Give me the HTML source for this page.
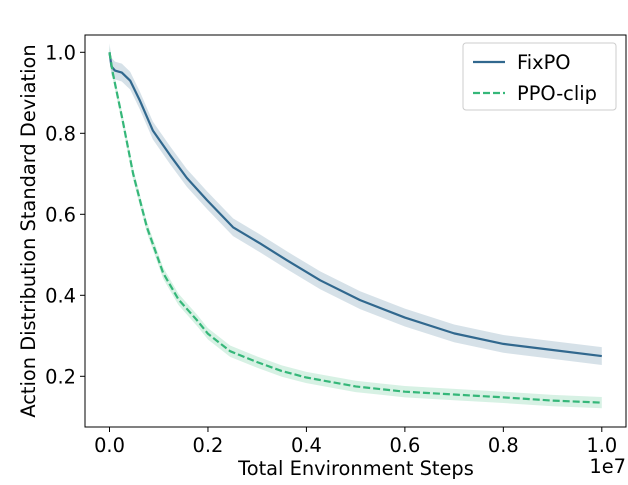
<!DOCTYPE html>
<html><head><meta charset="utf-8"><style>
body{margin:0;background:#fff}
svg text{font-family:"DejaVu Sans","Liberation Sans",sans-serif;fill:#000}
</style></head><body>
<svg width="628" height="480" xmlns="http://www.w3.org/2000/svg">
<g id="plot"></g>
</svg>
<script>
const xTicks=[0,0.2,0.4,0.6,0.8,1.0];
const xTickLabels=["0.0","0.2","0.4","0.6","0.8","1.0"];
const yTicks=[0.2,0.4,0.6,0.8,1.0];
const yTickLabels=["0.2","0.4","0.6","0.8","1.0"];
const fixX=[0,0.004,0.011,0.025,0.042,0.062,0.088,0.123,0.157,0.198,0.251,0.306,0.361,0.428,0.509,0.6,0.7,0.8,0.9,1.0];
const fixY=[1.0,0.965,0.955,0.95,0.93,0.88,0.807,0.746,0.69,0.635,0.568,0.528,0.486,0.437,0.388,0.345,0.306,0.28,0.265,0.25];
const ppoX=[0,0.007,0.027,0.048,0.076,0.109,0.14,0.178,0.2,0.245,0.3,0.35,0.4,0.5,0.6,0.7,0.8,0.9,1.0];
const ppoY=[1.0,0.947,0.83,0.70,0.568,0.455,0.39,0.338,0.305,0.262,0.235,0.213,0.197,0.175,0.162,0.155,0.148,0.14,0.135];
const fixBand=0.022, ppoBand=0.014;
const L=85,R=626,T=35,B=427;
const sx=v=>109.5+v*492.3;
const sy=v=>457.3-v*405;
const NS="http://www.w3.org/2000/svg";
const g=document.getElementById('plot');
function mk(tag,attrs,parent){const e=document.createElementNS(NS,tag);for(const k in attrs)e.setAttribute(k,attrs[k]);(parent||g).appendChild(e);return e;}
function band(xs,ys,w,color,name){
  let d="M"+xs.map((x,i)=>sx(x)+","+sy(ys[i]+w)).join("L");
  for(let i=xs.length-1;i>=0;i--)d+="L"+sx(xs[i])+","+sy(ys[i]-w);
  const p=mk('path',{d:d+"Z",fill:color,'fill-opacity':0.2});
  
  
}
function line(xs,ys,color,dash,name){
  const p=mk('path',{d:"M"+xs.map((x,i)=>sx(x)+","+sy(ys[i])).join("L"),fill:'none',stroke:color,'stroke-width':2.2,'stroke-dasharray':dash||'none','stroke-linejoin':'round'});
  
  
}
band(fixX,fixY,fixBand,'#31688e','fixpo-band');
band(ppoX,ppoY,ppoBand,'#35b779','ppo-band');
line(fixX,fixY,'#31688e',null,'fixpo-line');
line(ppoX,ppoY,'#35b779','7,3','ppo-clip-line');
const frame=mk('rect',{x:L,y:T,width:R-L,height:B-T,fill:'none',stroke:'#000','stroke-width':1});


xTicks.forEach((v,i)=>{
  mk('line',{x1:sx(v),x2:sx(v),y1:B,y2:B+5,stroke:'#000'});
  const t=mk('text',{x:sx(v),y:B+25,'text-anchor':'middle','font-size':19.4});
  t.textContent=xTickLabels[i];
  
  
});
yTicks.forEach((v,i)=>{
  mk('line',{x1:L-5,x2:L,y1:sy(v),y2:sy(v),stroke:'#000'});
  const t=mk('text',{x:L-9,y:sy(v)+7,'text-anchor':'end','font-size':19.4});
  t.textContent=yTickLabels[i];
  
  
});
</script>
<svg style="position:absolute;left:0;top:0" width="628" height="480">
<text x="356" y="475" text-anchor="middle" font-size="19.4">Total Environment Steps</text>
<text x="626" y="473" text-anchor="end" font-size="19.4">1e7</text>
<text transform="translate(35,231) rotate(-90)" text-anchor="middle" font-size="19.4">Action Distribution Standard Deviation</text>
<g>
<rect x="463" y="43" width="153" height="67" rx="3" fill="#fff" fill-opacity="0.8" stroke="#ccc"/>
<line x1="473" y1="62" x2="505" y2="62" stroke="#31688e" stroke-width="2.2"/>
<text x="517" y="69" font-size="19.4">FixPO</text>
<line x1="473" y1="93" x2="505" y2="93" stroke="#35b779" stroke-width="2.2" stroke-dasharray="7,3"/>
<text x="517" y="100" font-size="19.4">PPO-clip</text>
</g>
</svg>
</body></html>
